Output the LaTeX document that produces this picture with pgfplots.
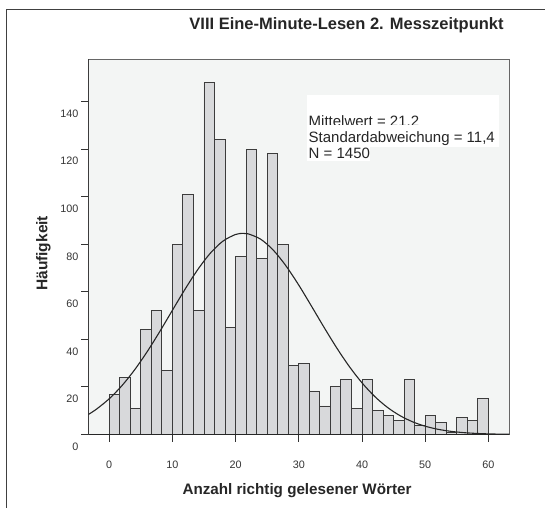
\documentclass[border=0pt]{standalone}
\usepackage{fontspec}
\setmainfont{Liberation Sans}
\usepackage{pgfplots}
\pgfplotsset{compat=1.18}
\definecolor{plotbg}{HTML}{F3F5F4}
\definecolor{barfill}{HTML}{D8D9DB}
\definecolor{barline}{HTML}{3C3C3C}
\definecolor{frame}{HTML}{404040}
\begin{document}
\begin{tikzpicture}
\useasboundingbox (0bp,0bp) rectangle (545bp,508bp);
% outer SPSS frame (only top and left edge visible)
\draw[line width=1.3bp, frame] (6.8bp,0bp) -- (6.8bp,498.7bp) -- (545bp,498.7bp);
\begin{axis}[
    at={(88.3bp,73.5bp)}, anchor=south west,
    scale only axis, width=421bp, height=375.2bp,
    xmin=-3.3, xmax=63.3, ymin=0, ymax=157.8,
    axis background/.style={fill=plotbg},
    axis line style={draw=black!60, line width=0.8bp},
    xtick={0,10,...,60}, ytick={0,20,...,140},
    tick pos=left, tick align=outside,
    major tick length=7bp,
    tick style={draw=black!80, line width=0.9bp},
    /pgf/number format/assume math mode=true,
    ticklabel style={font=\fontsize{10.8bp}{12bp}\selectfont, text=black!80, inner sep=0pt},
    yticklabel style={anchor=east, xshift=-2.8bp, yshift=-12bp},
    xticklabel style={anchor=north, yshift=-19bp},
    title={VIII Eine-Minute-Lesen 2. Messzeitpunkt},
    title style={at={(axis description cs:0.6133,1.0736)}, anchor=center,
        font=\bfseries\fontsize{16.5bp}{18bp}\selectfont, text=black!85},
    xlabel={Anzahl richtig gelesener Wörter},
    every axis x label/.style={at={(axis description cs:0.4957,-0.1498)}, anchor=center,
        font=\bfseries\fontsize{15.2bp}{17bp}\selectfont, text=black!85},
    ylabel={Häufigkeit},
    every axis y label/.style={at={(axis description cs:-0.1069,0.4829)}, anchor=center, rotate=90,
        font=\bfseries\fontsize{15.5bp}{17bp}\selectfont, text=black!85},
]
\addplot[ybar interval, fill=barfill, draw=barline, line width=0.9bp] coordinates {
    (0,17) (1.6667,24) (3.3333,11) (5,44) (6.6667,52) (8.3333,27)
    (10,80) (11.6667,101) (13.3333,52) (15,148) (16.6667,124) (18.3333,45)
    (20,75) (21.6667,120) (23.3333,74) (25,118) (26.6667,80) (28.3333,29)
    (30,30) (31.6667,18) (33.3333,12) (35,20) (36.6667,23) (38.3333,11)
    (40,23) (41.6667,10) (43.3333,8) (45,6) (46.6667,23) (48.3333,4)
    (50,8) (51.6667,5) (53.3333,1) (55,7) (56.6667,6) (58.3333,15)
    (60,0)
};
% normal curve
\addplot[smooth, line width=1.1bp, black!85] coordinates {
    (-3.3,8.40) (-2,10.67) (0,15.01) (2,20.48) (4,27.11) (6,34.78)
    (8,43.27) (10,52.22) (12,61.09) (14,69.30) (16,76.24) (18,81.33)
    (20,84.13) (21.2,84.6) (22,84.39) (24,82.09) (26,77.43) (28,70.81)
    (30,62.81) (32,54.01) (34,45.04) (36,36.42) (38,28.56) (40,21.72)
    (42,16.01) (44,11.45) (46,7.94) (48,5.34) (50,3.48) (52,2.20)
    (54,1.35) (56,0.80) (58,0.46) (60,0.26) (62,0.14) (63.3,0.09)
};
% heavier bottom and left axis lines
\draw[line width=1.6bp, black!85] (rel axis cs:0,1) -- (rel axis cs:0,0) -- (rel axis cs:1,0);
\end{axis}
% statistics box
\fill[white] (307.3bp,361.3bp) rectangle (499bp,413bp);
\node[anchor=base west, inner sep=0pt, font=\fontsize{15bp}{17bp}\selectfont, text=black!85]
    at (308.5bp,381.5bp) {Mittelwert = 21.2};
\fill[white] (307.3bp,361.3bp) rectangle (499bp,383bp);
\node[anchor=base west, inner sep=0pt, font=\fontsize{15bp}{17bp}\selectfont, text=black!85]
    at (308.5bp,365.5bp) {Standardabweichung = 11,4};
\fill[white] (307.3bp,347bp) rectangle (370bp,361.3bp);
\node[anchor=base west, inner sep=0pt, font=\fontsize{15bp}{17bp}\selectfont, text=black!85]
    at (308.5bp,349.5bp) {N = 1450};
\end{tikzpicture}
\end{document}
